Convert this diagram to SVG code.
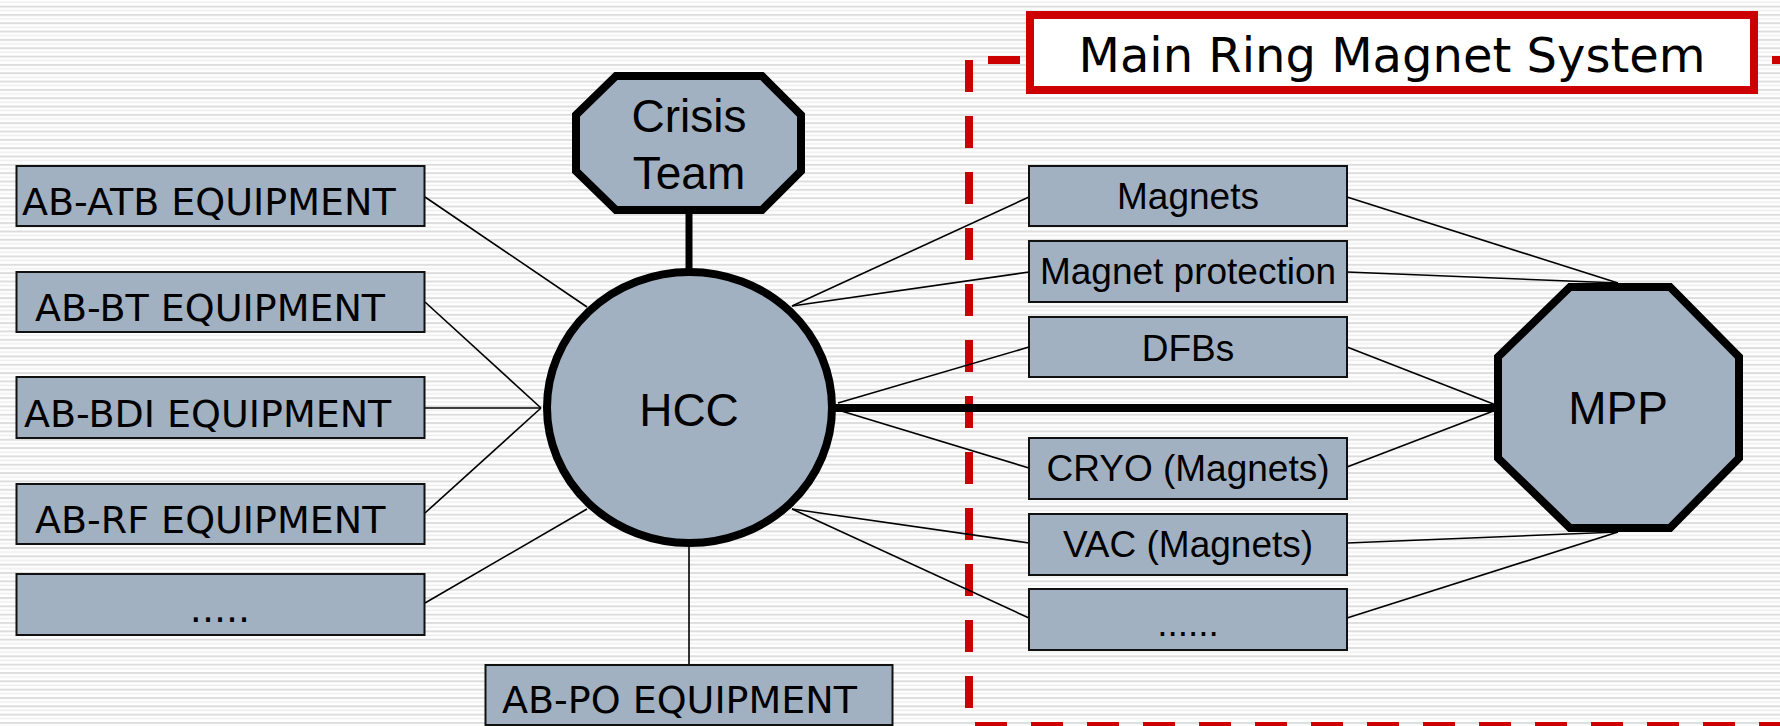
<svg xmlns="http://www.w3.org/2000/svg" width="1780" height="726" viewBox="0 0 1780 726">
  <defs>
    <pattern id="stripes" patternUnits="userSpaceOnUse" x="0" y="5.6" width="20" height="8.33">
      <rect x="0" y="0" width="20" height="2" fill="#DDDDDD"/>
      <rect x="0" y="4.2" width="20" height="1.6" fill="#EEEEEE"/>
    </pattern>
    <style>
      .box { fill: #A2B1C1; stroke: #111; stroke-width: 2; }
      .oct { fill: #A2B1C1; stroke: #000; stroke-width: 8; stroke-linejoin: miter; }
      .thin { stroke: #000; stroke-width: 1.6; fill: none; }
      .thick { stroke: #000; fill: none; }
      .red { stroke: #CC0000; stroke-width: 8; stroke-dasharray: 32 24; fill: none; }
      .lbl { font-family: "DejaVu Sans", sans-serif; font-size: 38px; fill: #000; }
      .rl { font-family: "Liberation Sans", Arial, sans-serif; font-size: 37px; fill: #000; text-anchor: middle; }
      .big { font-family: "Liberation Sans", Arial, sans-serif; font-size: 46px; fill: #000; text-anchor: middle; }
    </style>
  </defs>
  <rect x="0" y="0" width="1780" height="726" fill="#FFFFFF"/>
  <rect x="0" y="0" width="1780" height="726" fill="url(#stripes)"/>

  <g id="frame">
    <line class="red" x1="969" y1="60" x2="969" y2="726"/>
    <line class="red" x1="988" y1="60" x2="1780" y2="60"/>
    <line class="red" x1="975" y1="726" x2="1780" y2="726"/>
  </g>

  <g id="connectors">
    <line class="thin" x1="425" y1="197" x2="587" y2="307"/>
    <line class="thin" x1="425" y1="302" x2="541" y2="408"/>
    <line class="thin" x1="425" y1="408" x2="541" y2="408"/>
    <line class="thin" x1="425" y1="513" x2="541" y2="408"/>
    <line class="thin" x1="425" y1="603" x2="587" y2="509"/>
    <line class="thin" x1="689" y1="540" x2="689" y2="665"/>
    <line class="thick" x1="689" y1="210" x2="689" y2="272" stroke-width="7"/>
    <line class="thin" x1="792" y1="306" x2="1029" y2="197"/>
    <line class="thin" x1="792" y1="306" x2="1029" y2="272"/>
    <line class="thin" x1="838" y1="403" x2="1029" y2="347"/>
    <line class="thin" x1="838" y1="410" x2="1029" y2="468"/>
    <line class="thin" x1="792" y1="509" x2="1029" y2="543"/>
    <line class="thin" x1="792" y1="509" x2="1029" y2="618"/>
    <line class="thick" x1="830" y1="408" x2="1500" y2="408" stroke-width="8"/>
    <line class="thin" x1="1347" y1="197" x2="1618" y2="283"/>
    <line class="thin" x1="1347" y1="272" x2="1618" y2="283"/>
    <line class="thin" x1="1347" y1="347" x2="1496" y2="405"/>
    <line class="thin" x1="1347" y1="467" x2="1496" y2="410"/>
    <line class="thin" x1="1347" y1="543" x2="1618" y2="532"/>
    <line class="thin" x1="1347" y1="618" x2="1618" y2="532"/>
  </g>

  <g id="title">
    <rect x="1030" y="15" width="724" height="75" fill="#FFFFFF" stroke="#CC0000" stroke-width="8"/>
    <text x="1392" y="72" font-family="DejaVu Sans, sans-serif" font-size="48" text-anchor="middle" fill="#000">Main Ring Magnet System</text>
  </g>

  <g id="ab-atb">
    <rect class="box" x="16.5" y="166" width="408" height="60"/>
    <text class="lbl" x="22" y="215">AB-ATB EQUIPMENT</text>
  </g>
  <g id="ab-bt">
    <rect class="box" x="16.5" y="272" width="408" height="60"/>
    <text class="lbl" x="35" y="321">AB-BT EQUIPMENT</text>
  </g>
  <g id="ab-bdi">
    <rect class="box" x="16.5" y="377" width="408" height="61"/>
    <text class="lbl" x="24" y="427">AB-BDI EQUIPMENT</text>
  </g>
  <g id="ab-rf">
    <rect class="box" x="16.5" y="484" width="408" height="60"/>
    <text class="lbl" x="35" y="533">AB-RF EQUIPMENT</text>
  </g>
  <g id="ab-more">
    <rect class="box" x="16.5" y="574" width="408" height="61"/>
    <text class="lbl" x="220" y="622" text-anchor="middle">.....</text>
  </g>
  <g id="ab-po">
    <rect class="box" x="485.5" y="665" width="407" height="60"/>
    <text class="lbl" x="502" y="713">AB-PO EQUIPMENT</text>
  </g>

  <g id="crisis-team">
    <polygon class="oct" points="616,76 762,76 801,115 801,171 762,210 616,210 576,171 576,115"/>
    <text class="big" x="689" y="132">Crisis</text>
    <text class="big" x="689" y="189">Team</text>
  </g>

  <g id="hcc">
    <ellipse class="oct" cx="689.5" cy="407.5" rx="142.5" ry="135.5"/>
    <text class="big" x="689" y="426" font-size="47">HCC</text>
  </g>

  <g id="mpp">
    <polygon class="oct" points="1570,287 1670,287 1739,357 1739,458 1670,528 1570,528 1498,458 1498,357"/>
    <text class="big" x="1618" y="424">MPP</text>
  </g>

  <g id="magnets">
    <rect class="box" x="1029" y="166" width="318" height="60"/>
    <text class="rl" x="1188" y="209">Magnets</text>
  </g>
  <g id="magnet-protection">
    <rect class="box" x="1029" y="241" width="318" height="61"/>
    <text class="rl" x="1188" y="284">Magnet protection</text>
  </g>
  <g id="dfbs">
    <rect class="box" x="1029" y="317" width="318" height="60"/>
    <text class="rl" x="1188" y="361">DFBs</text>
  </g>
  <g id="cryo">
    <rect class="box" x="1029" y="438" width="318" height="61"/>
    <text class="rl" x="1188" y="481">CRYO (Magnets)</text>
  </g>
  <g id="vac">
    <rect class="box" x="1029" y="514" width="318" height="61"/>
    <text class="rl" x="1188" y="557">VAC (Magnets)</text>
  </g>
  <g id="mms-more">
    <rect class="box" x="1029" y="589" width="318" height="61"/>
    <text class="rl" x="1188" y="636">......</text>
  </g>
</svg>
